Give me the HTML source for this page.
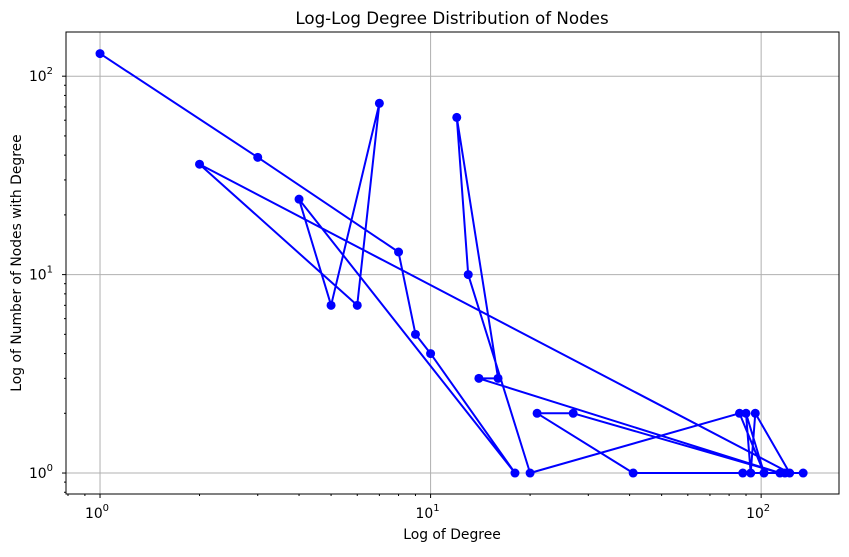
<!DOCTYPE html>
<html><head><meta charset="utf-8"><style>
body{margin:0;background:#fff;}
svg text{font-family:"DejaVu Sans","Liberation Sans",sans-serif;fill:#000;}
</style></head><body>
<svg id="chart" width="849" height="552" xmlns="http://www.w3.org/2000/svg">
<rect width="849" height="552" fill="#fff"/>
<g id="grid"></g>
<g id="ticks"></g>
<g id="series"></g>
<rect x="66" y="32" width="773" height="462" fill="none" stroke="#000" stroke-width="1"/>
<text x="452" y="24" text-anchor="middle" font-size="16.7">Log-Log Degree Distribution of Nodes</text>
<text x="452" y="539" text-anchor="middle" font-size="13.9">Log of Degree</text>
<text transform="translate(21,263) rotate(-90)" text-anchor="middle" font-size="13.9">Log of Number of Nodes with Degree</text>
</svg>
<script>
const degrees = [1,3,8,9,10,18,4,5,7,6,2,122,96,93,90,102,86,20,13,12,16,14,114,27,21,41,88,134,118];
const counts  = [130,39,13,5,4,1,24,7,73,7,36,1,2,1,2,1,2,1,10,62,3,3,1,2,2,1,1,1,1];
const majorTicks = [1,10,100];
const majorLabels = ["0","1","2"];

const L=66,R=839,T=32,B=494;
const xMin=0.789,xMax=172,yMin=0.784,yMax=167;
const NS="http://www.w3.org/2000/svg";
function xs(v){return L+(Math.log10(v)-Math.log10(xMin))/(Math.log10(xMax)-Math.log10(xMin))*(R-L);}
function ys(v){return B-(Math.log10(v)-Math.log10(yMin))/(Math.log10(yMax)-Math.log10(yMin))*(B-T);}
function mk(tag,attrs,parent){const e=document.createElementNS(NS,tag);for(const k in attrs)e.setAttribute(k,attrs[k]);parent.appendChild(e);return e;}
const grid=document.getElementById('grid'),ticks=document.getElementById('ticks'),series=document.getElementById('series');

majorTicks.forEach((t,i)=>{
  const x=xs(t),y=ys(t);
  const gx=mk('line',{x1:x,x2:x,y1:T,y2:B,stroke:'#b0b0b0','stroke-width':1},grid);
  
  
  const gy=mk('line',{x1:L,x2:R,y1:y,y2:y,stroke:'#b0b0b0','stroke-width':1},grid);
  
  
  mk('line',{x1:x,x2:x,y1:B,y2:B+4,stroke:'#000'},ticks);
  mk('line',{x1:L-4,x2:L,y1:y,y2:y,stroke:'#000'},ticks);
  const tx=mk('text',{x:x-3,y:B+24,'text-anchor':'middle','font-size':13.9},ticks);
  tx.textContent='10';
  const s1=mk('tspan',{dy:-7,'font-size':10},tx);s1.textContent=majorLabels[i];
  
  
  const ty=mk('text',{x:L-25,y:y+5,'text-anchor':'middle','font-size':13.9},ticks);
  ty.textContent='10';
  const s2=mk('tspan',{dy:-7,'font-size':10},ty);s2.textContent=majorLabels[i];
  
  
});
for(let d=-1;d<=2;d++){for(let m=2;m<=9;m++){const v=m*Math.pow(10,d);
  if(v>xMin&&v<xMax){const x=xs(v);mk('line',{x1:x,x2:x,y1:B,y2:B+2,stroke:'#000'},ticks);}
  if(v>yMin&&v<yMax){const y=ys(v);mk('line',{x1:L-2,x2:L,y1:y,y2:y,stroke:'#000'},ticks);}
}}
const pts=degrees.map((d,i)=>xs(d).toFixed(1)+','+ys(counts[i]).toFixed(1)).join(' ');
const pl=mk('polyline',{points:pts,fill:'none',stroke:'#0000ff','stroke-width':2,'stroke-linejoin':'round'},series);


degrees.forEach((d,i)=>{
  const c=mk('circle',{cx:xs(d),cy:ys(counts[i]),r:4.5,fill:'#0000ff'},series);
  
  
});
</script>
</body></html>
